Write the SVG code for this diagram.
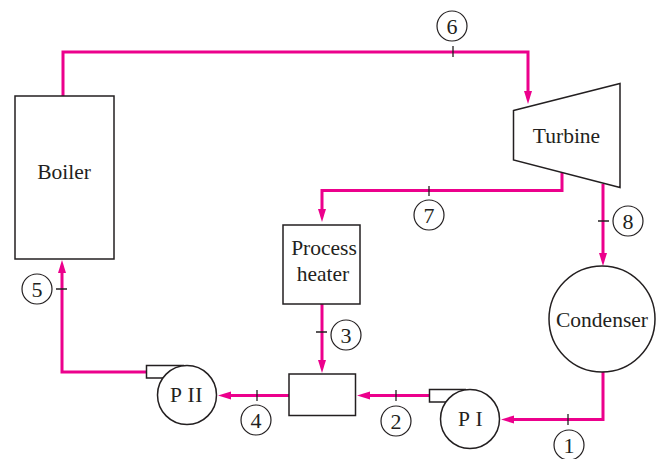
<svg xmlns="http://www.w3.org/2000/svg" width="662" height="459" viewBox="0 0 662 459">
<style>
.n{fill:#fff;stroke:#231f20;stroke-width:1.5}
.f{fill:none;stroke:#ec008c;stroke-width:3}
.a{fill:#ec008c;stroke:none}
.t{stroke:#231f20;stroke-width:1.3;fill:none}
.c{fill:#fff;stroke:#231f20;stroke-width:1.2}
text{font-family:"Liberation Serif","Times New Roman",serif;fill:#231f20;text-anchor:middle}
.l{font-size:21.500px}
.s{font-size:22px}
.p{letter-spacing:.5px}
</style>
<rect width="662" height="459" fill="#fff"/>
<g id="connectors">
<path class="f" d="M63 96V52H528V95"/>
<path class="a" d="M528 104L524 91H532Z"/>
<path class="f" d="M562 173V190.500H322V212"/>
<path class="a" d="M322 222L318 209H326Z"/>
<path class="f" d="M603 184V256"/>
<path class="a" d="M603 266L599 253H607Z"/>
<path class="f" d="M603 372V419.500H512"/>
<path class="a" d="M501 419.500L514 415.500V423.500Z"/>
<path class="f" d="M430 395.500H368"/>
<path class="a" d="M357 395.500L370 391.500V399.500Z"/>
<path class="f" d="M289 395.500H229"/>
<path class="a" d="M218 395.500L231 391.500V399.500Z"/>
<path class="f" d="M322 304V365"/>
<path class="a" d="M322 373L318 360H326Z"/>
<path class="f" d="M146 372H62V270"/>
<path class="a" d="M62 260L58 273H66Z"/>
<path class="t" d="M453 46V57M429 186V196M598 221H609M316 332H327M257 390V401M396 390V401M568 414V425M56 289H67"/>
</g>
<g id="boiler"><rect class="n" x="15" y="96" width="99" height="163"/><text class="l" x="64" y="179">Boiler</text></g>
<g id="turbine"><path class="n" d="M513.500 110.500L620 83.500V187.500L513.500 160Z"/><text class="l" x="566.500" y="143">Turbine</text></g>
<g id="process-heater"><rect class="n" x="283" y="225" width="77" height="79"/><text class="l" x="324" y="255">Process</text><text class="l" x="323" y="281">heater</text></g>
<g id="condenser"><circle class="n" cx="602" cy="319" r="53"/><text class="l" x="602" y="327">Condenser</text></g>
<g id="mixer"><rect class="n" x="289" y="374" width="66.500" height="41.500"/></g>
<g id="pump-2"><path class="n" d="M184 365.500H146.500V378H165"/><circle class="n" cx="187" cy="395" r="29.500"/><text class="l p" x="186.500" y="402">P II</text></g>
<g id="pump-1"><path class="n" d="M466 389.500H429.500V402H448"/><circle class="n" cx="470" cy="419" r="29.500"/><text class="l p" x="470.500" y="426">P I</text></g>
<g id="state-1"><circle class="c" cx="569" cy="445" r="15"/><text class="s" x="569" y="452.500">1</text></g>
<g id="state-2"><circle class="c" cx="396" cy="421" r="15"/><text class="s" x="396" y="428.500">2</text></g>
<g id="state-3"><circle class="c" cx="346" cy="335" r="15"/><text class="s" x="346" y="342.500">3</text></g>
<g id="state-4"><circle class="c" cx="256" cy="420" r="15"/><text class="s" x="256" y="427.500">4</text></g>
<g id="state-5"><circle class="c" cx="37" cy="289" r="15"/><text class="s" x="37" y="296.500">5</text></g>
<g id="state-6"><circle class="c" cx="452" cy="26" r="15"/><text class="s" x="452" y="33.500">6</text></g>
<g id="state-7"><circle class="c" cx="429" cy="215" r="15"/><text class="s" x="429" y="222.500">7</text></g>
<g id="state-8"><circle class="c" cx="628" cy="221" r="15"/><text class="s" x="628" y="228.500">8</text></g>
</svg>
